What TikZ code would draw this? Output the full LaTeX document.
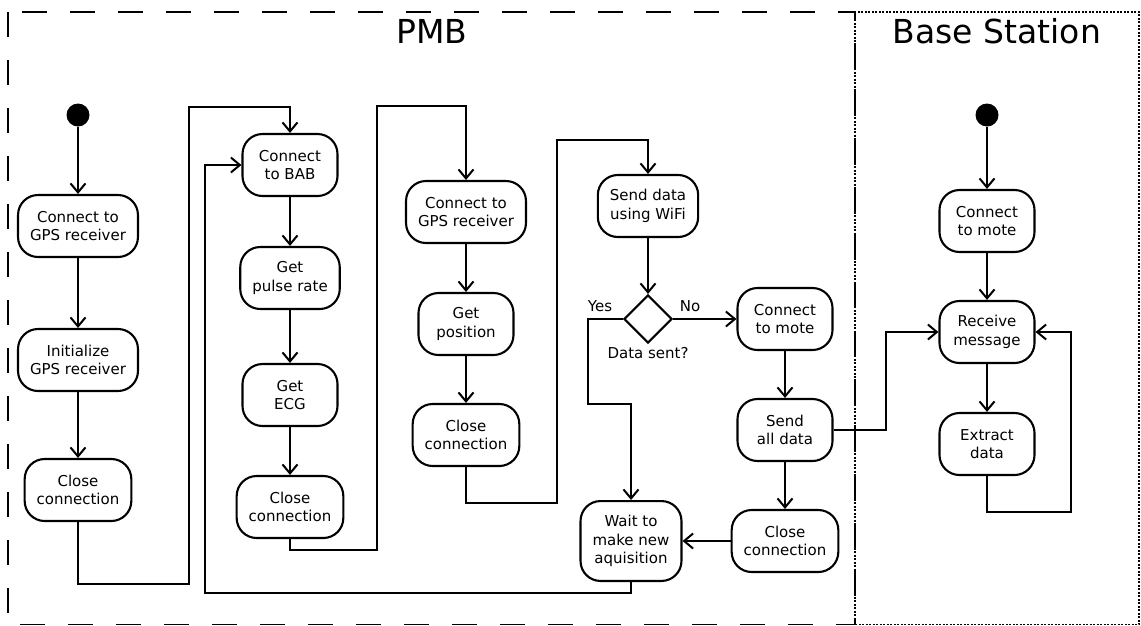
\documentclass[tikz,border=0pt]{standalone}
\usepackage{fontspec}
\setmainfont{DejaVu Sans}
\usetikzlibrary{arrows.meta,shapes.geometric}

\begin{document}
\begin{tikzpicture}[x=1pt,y=-1pt,
  activity/.style={draw,line width=2.1pt,rounded corners=20pt,align=center,
    minimum width=95pt,minimum height=62pt,inner xsep=12pt,inner ysep=14pt,
    font=\fontsize{15}{18.7}\selectfont},
  initial/.style={circle,fill=black,minimum size=23pt,inner sep=0pt},
  choice/.style={diamond,draw,line width=2.1pt,minimum size=48pt,inner sep=0pt},
  flow/.style={line width=2pt,-{Straight Barb[length=9pt,width=15pt]}},
  lbl/.style={font=\fontsize{15}{18}\selectfont},
  title/.style={font=\fontsize{33}{36}\selectfont}]
  \useasboundingbox (0,0) rectangle (1141,625);

  \draw[line width=1.6pt,dash pattern=on 25pt off 23pt] (8,12) rectangle (855,624.5);
  \draw[line width=1.6pt,dash pattern=on 2pt off 1.5pt] (855,12) rectangle (1139,624.5);
  \node[title] (pmb) at (432,31) {PMB};
  \node[title] (base) at (997,31) {Base Station};

  \node[initial] (start1) at (78,115) {};
  \node[activity] (gps1) at (78,226) {Connect to\\GPS receiver};
  \node[activity] (init) at (78,360) {Initialize\\GPS receiver};
  \node[activity] (close1) at (78,490) {Close\\connection};

  \node[activity] (bab) at (290,165) {Connect\\to BAB};
  \node[activity] (pulse) at (290,278) {Get\\pulse rate};
  \node[activity] (ecg) at (290,395) {Get\\ECG};
  \node[activity] (close2) at (290,507) {Close\\connection};

  \node[activity] (gps2) at (466,212) {Connect to\\GPS receiver};
  \node[activity] (pos) at (466,324) {Get\\position};
  \node[activity] (close3) at (466,435) {Close\\connection};

  \node[activity] (wifi) at (648,206) {Send data\\using WiFi};
  \node[choice] (sent) at (648,319) {};
  \node[lbl] (yes) at (600,306) {Yes};
  \node[lbl] (no) at (690,306) {No};
  \node[lbl] (sentq) at (648,353) {Data sent?};
  \node[activity] (wait) at (631,541) {Wait to\\make new\\aquisition};

  \node[activity] (mote1) at (785,319) {Connect\\to mote};
  \node[activity] (sendall) at (785,430) {Send\\all data};
  \node[activity] (close4) at (785,541) {Close\\connection};

  \node[initial] (start2) at (987,115) {};
  \node[activity] (mote2) at (987,221) {Connect\\to mote};
  \node[activity] (recv) at (987,332) {Receive\\message};
  \node[activity] (extract) at (987,444) {Extract\\data};

  \draw[flow] (start1) -- (gps1);
  \draw[flow] (gps1) -- (init);
  \draw[flow] (init) -- (close1);
  \draw[flow] (close1.south) -- ++(0,62) -| (189,107) -| (bab.north);

  \draw[flow] (bab) -- (pulse);
  \draw[flow] (pulse) -- (ecg);
  \draw[flow] (ecg) -- (close2);
  \draw[flow] (close2.south) -- ++(0,11) -| (377,106) -| (gps2.north);

  \draw[flow] (gps2) -- (pos);
  \draw[flow] (pos) -- (close3);
  \draw[flow] (close3.south) -- ++(0,36) -| (557,140) -| (wifi.north);

  \draw[flow] (wifi) -- (sent.north);
  \draw[flow] (sent.east) -- (mote1.west);
  \draw[flow] (sent.west) -| (588,404) -| (wait.north);
  \draw[flow] (mote1) -- (sendall);
  \draw[flow] (sendall) -- (close4);
  \draw[flow] (close4.west) -- (wait.east);
  \draw[flow] (wait.south) -- ++(0,11) -| (205,165) -- (bab.west);
  \draw[flow] (sendall.east) -- (886,430) |- (recv.west);

  \draw[flow] (start2) -- (mote2);
  \draw[flow] (mote2) -- (recv);
  \draw[flow] (recv) -- (extract);
  \draw[flow] (extract.south) -- ++(0,36) -| (1071,332) -- (recv.east);
\end{tikzpicture}
\end{document}
